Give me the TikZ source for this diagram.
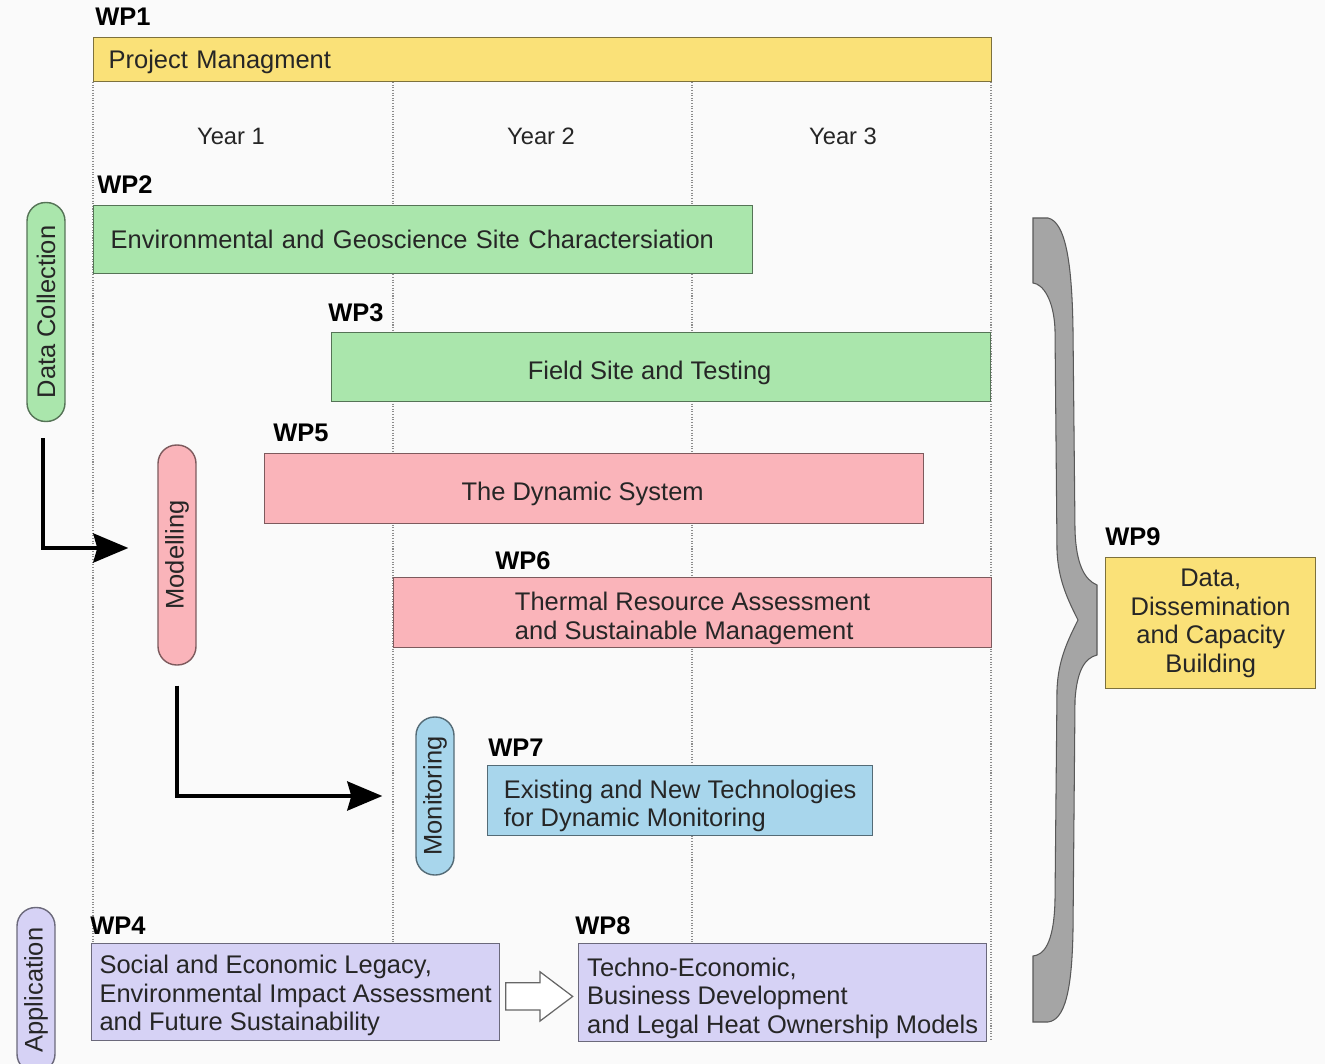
\documentclass[tikz,border=0pt]{standalone}
\usepackage{fontspec}
\setmainfont{Liberation Sans}
\usetikzlibrary{arrows.meta,positioning,calc,shapes.arrows}

\definecolor{wpyellow}{RGB}{250,225,120}
\definecolor{wpgreen}{RGB}{170,230,172}
\definecolor{wppink}{RGB}{250,180,186}
\definecolor{wpblue}{RGB}{168,214,236}
\definecolor{wplilac}{RGB}{214,210,245}
\definecolor{bracegray}{RGB}{165,165,165}

\newcommand{\boxfont}{\fontsize{14.5}{16.2}\selectfont}
\newcommand{\yearfont}{\fontsize{13.5}{16}\selectfont}
% invisible strut that pushes the first line down a little
\newcommand{\topstrut}[1]{\rule{0pt}{#1}}

\begin{document}
\begin{tikzpicture}[
    x=0.02cm, y=-0.02cm,
    wpbox/.style={draw=#1!50!black, fill=#1, line width=0.8pt, anchor=north west,
        inner xsep=0.12cm, inner ysep=0pt, align=left, font=\boxfont, text=black!85},
    wplabel/.style={font=\bfseries\boxfont, inner sep=0pt},
    phasepill/.style={draw=#1!50!black, fill=#1, line width=0.8pt, rotate=90,
        rounded corners=0.37cm, minimum height=0.76cm, inner sep=0pt,
        font=\boxfont, text=black!85},
    yearlabel/.style={font=\yearfont, text=black!85},
    flowarrow/.style={-{Stealth[length=0.7cm,width=0.58cm,inset=0.08cm]}, line width=2.2pt},
    gridline/.style={draw=black!45, line width=0.6pt, dash pattern=on 0.6pt off 0.9pt},
    handover/.style={single arrow, draw=black!60, fill=white, line width=0.7pt,
        minimum height=1.34cm, inner sep=0.26cm, single arrow head extend=0.22cm,
        single arrow tip angle=74}
]

\fill[black!2] (0,0) rectangle (1325,1064);
\useasboundingbox (0,0) rectangle (1325,1064);

% year columns
\foreach \x in {93,393,692,991}
    \draw[gridline] (\x,82) -- (\x,1040);

\node[yearlabel] (year1) at (231,136) {Year 1};
\node[yearlabel] (year2) at (541,136) {Year 2};
\node[yearlabel] (year3) at (843,136) {Year 3};

% work packages
\node[wpbox=wpyellow, minimum width=17.96cm, minimum height=0.88cm,
      inner xsep=0.3cm, text width=17.36cm] (wp1) at (93,37) {\topstrut{13pt}Project Managment};
\node[wpbox=wpgreen, minimum width=13.18cm, minimum height=1.36cm,
      inner xsep=0.34cm, text width=12.5cm] (wp2) at (93,205)
      {Environmental and Geoscience Site Charactersiation};
\node[wpbox=wpgreen, minimum width=13.18cm, minimum height=1.38cm, align=center] (wp3) at (331,332)
      {\topstrut{17.5pt}Field Site and Testing\hspace{0.46cm}};
\node[wpbox=wppink, minimum width=13.18cm, minimum height=1.4cm, align=center] (wp5) at (264,453)
      {\topstrut{17pt}The Dynamic System\hspace{0.46cm}};
\node[wpbox=wppink, minimum width=11.96cm, minimum height=1.4cm] (wp6) at (393,577)
      {\topstrut{17pt}Thermal Resource Assessment\\and Sustainable Management};
\node[wpbox=wpblue, minimum width=7.7cm, minimum height=1.4cm] (wp7) at (487,765)
      {\topstrut{16.5pt}Existing and New Technologies\\for Dynamic Monitoring};
\node[wpbox=wplilac, minimum width=8.16cm, minimum height=1.94cm, inner xsep=0.05cm] (wp4) at (91,943)
      {\topstrut{14.5pt}Social and Economic Legacy,\\Environmental Impact Assessment\\and Future Sustainability};
\node[wpbox=wplilac, minimum width=8.16cm, minimum height=1.96cm, inner xsep=0.05cm] (wp8) at (578,943)
      {\topstrut{17pt}Techno-Economic,\\Business Development\\and Legal Heat Ownership Models};
\node[wpbox=wpyellow, minimum width=4.2cm, minimum height=2.62cm, align=center] (wp9) at (1105,557)
      {Data,\\Dissemination\\and Capacity\\Building};

% labels
\node[wplabel, above right=0.22cm and 0.04cm of wp1.north west] (wp1label) {WP1};
\node[wplabel, above right=0.22cm and 0.08cm of wp2.north west] (wp2label) {WP2};
\node[wplabel, above right=0.2cm and -0.06cm of wp3.north west] (wp3label) {WP3};
\node[wplabel, above right=0.22cm and 0.18cm of wp5.north west] (wp5label) {WP5};
\node[wplabel, above right=0.14cm and 2.04cm of wp6.north west] (wp6label) {WP6};
\node[wplabel, above right=0.16cm and 0.02cm of wp7.north west] (wp7label) {WP7};
\node[wplabel, above right=0.16cm and -0.02cm of wp4.north west] (wp4label) {WP4};
\node[wplabel, above right=0.16cm and -0.06cm of wp8.north west] (wp8label) {WP8};
\node[wplabel, above right=0.22cm and 0cm of wp9.north west] (wp9label) {WP9};

% phases
\node[phasepill=wpgreen, minimum width=4.38cm] (datacol) at (46,312) {Data Collection};
\node[phasepill=wppink, minimum width=4.4cm] (modelling) at (177,555) {Modelling};
\node[phasepill=wpblue, minimum width=3.16cm] (monitoring) at (435,796) {Monitoring};
\node[phasepill=wplilac, minimum width=3.3cm] (application) at (36,990) {Application};

\draw[flowarrow, shorten <=0.32cm, shorten >=0.58cm] ([xshift=-0.06cm]datacol.west) |- ([yshift=0.14cm]modelling.north);
\draw[flowarrow, shorten <=0.4cm, shorten >=0.66cm] (modelling.west) |- (monitoring.north);

\node[handover, xshift=-0.18cm, yshift=-0.08cm] (wp4to8) at ($(wp4.east)!0.5!(wp8.west)$) {};

% brace towards WP9
\filldraw[fill=bracegray, draw=black!65, line width=0.6pt]
    (1033,218) -- (1048,218) .. controls (1065,222) and (1072,260) .. (1073,330)
    -- (1075,530) .. controls (1076,565) and (1085,580) .. (1097,585)
    -- (1097,655) .. controls (1085,658) and (1077,670) .. (1075,700)
    -- (1073,930) .. controls (1072,990) and (1065,1020) .. (1048,1022)
    -- (1033,1022) -- (1033,956) .. controls (1043,955) and (1054,945) .. (1055,900)
    -- (1057,690) .. controls (1058,660) and (1068,640) .. (1078,620)
    .. controls (1068,600) and (1058,580) .. (1057,550)
    -- (1055,330) .. controls (1054,300) and (1043,284) .. (1033,283) -- cycle;

\end{tikzpicture}
\end{document}
